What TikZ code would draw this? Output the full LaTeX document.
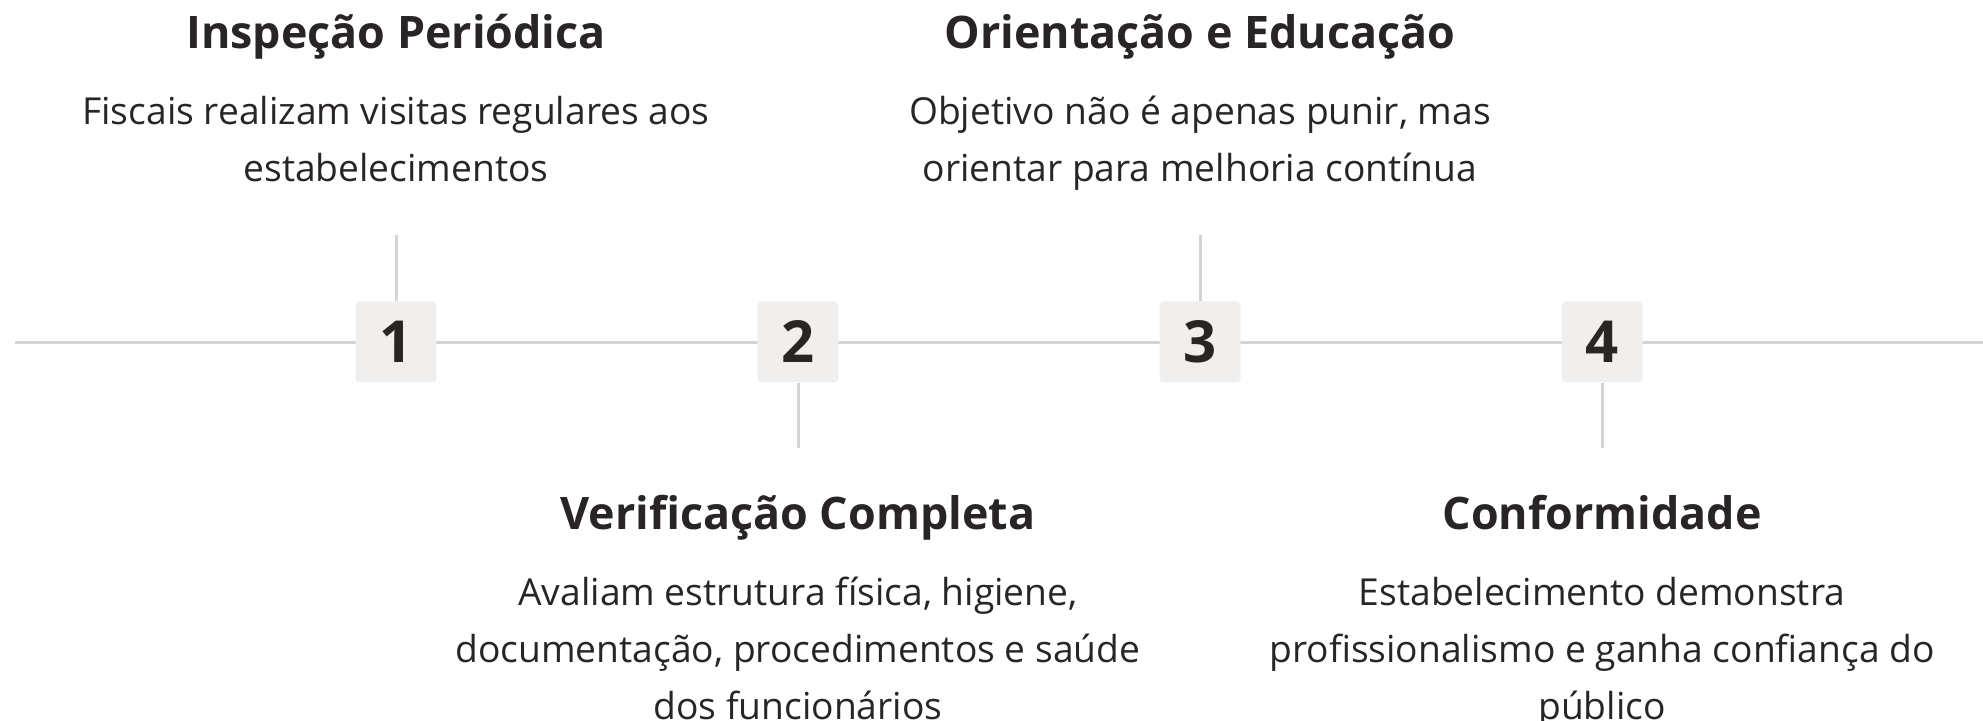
\documentclass[tikz,border=0pt]{standalone}
\usepackage{fontspec}
\setmainfont{Open Sans}
\usetikzlibrary{positioning}
\definecolor{inkdark}{HTML}{292524}
\definecolor{rulegray}{HTML}{D6D3D1}
\definecolor{stepfill}{HTML}{F1EFEE}
\tikzset{
  numbox/.style={fill=stepfill, rounded corners=2pt, minimum width=40.5pt, minimum height=40.5pt,
    inner sep=0pt, text=inkdark, font=\bfseries\fontsize{29}{31}\selectfont},
  steptitle/.style={inner sep=0pt, anchor=base, text=inkdark, font=\bfseries\fontsize{22.4}{26}\selectfont},
  stepbody/.style={inner sep=0pt, text=inkdark, align=center, anchor=north, font=\fontsize{18.6}{28.5}\selectfont},
  stemline/.style={draw=rulegray, line width=1.5pt},
}
\begin{document}
\begin{tikzpicture}[x=0.5pt,y=-0.5pt]
\useasboundingbox (0,0) rectangle (1983,721);
% timeline
\coordinate (lineL) at (15,343);
\coordinate (lineR) at (1983,343);
\draw[stemline] (lineL) -- (lineR);
\node[numbox] (n1) at (396,342) {1};
\node[numbox] (n2) at (798,342) {2};
\node[numbox] (n3) at (1200,342) {3};
\node[numbox] (n4) at (1602,342) {4};
% stems
\coordinate (s1) at (396,235);
\coordinate (s2) at (798,448);
\coordinate (s3) at (1200,235);
\coordinate (s4) at (1602,448);
\draw[stemline] (s1) -- (n1.north);
\draw[stemline] (n2.south) -- (s2);
\draw[stemline] (s3) -- (n3.north);
\draw[stemline] (n4.south) -- (s4);
% upper texts
\node[steptitle] (t1) at (396,49) {Inspeção Periódica};
\node[stepbody] (d1) at (396,96) {Fiscais realizam visitas regulares aos\\estabelecimentos};
\node[steptitle] (t3) at (1200,49) {Orientação e Educação};
\node[stepbody] (d3) at (1200,96) {Objetivo não é apenas punir, mas\\orientar para melhoria contínua};
% lower texts
\node[steptitle] (t2) at (798,530) {Verificação Completa};
\node[stepbody] (d2) at (798,577) {Avaliam estrutura física, higiene,\\documentação, procedimentos e saúde\\dos funcionários};
\node[steptitle] (t4) at (1602,530) {Conformidade};
\node[stepbody] (d4) at (1602,577) {Estabelecimento demonstra\\profissionalismo e ganha confiança do\\público};
\end{tikzpicture}
\end{document}
